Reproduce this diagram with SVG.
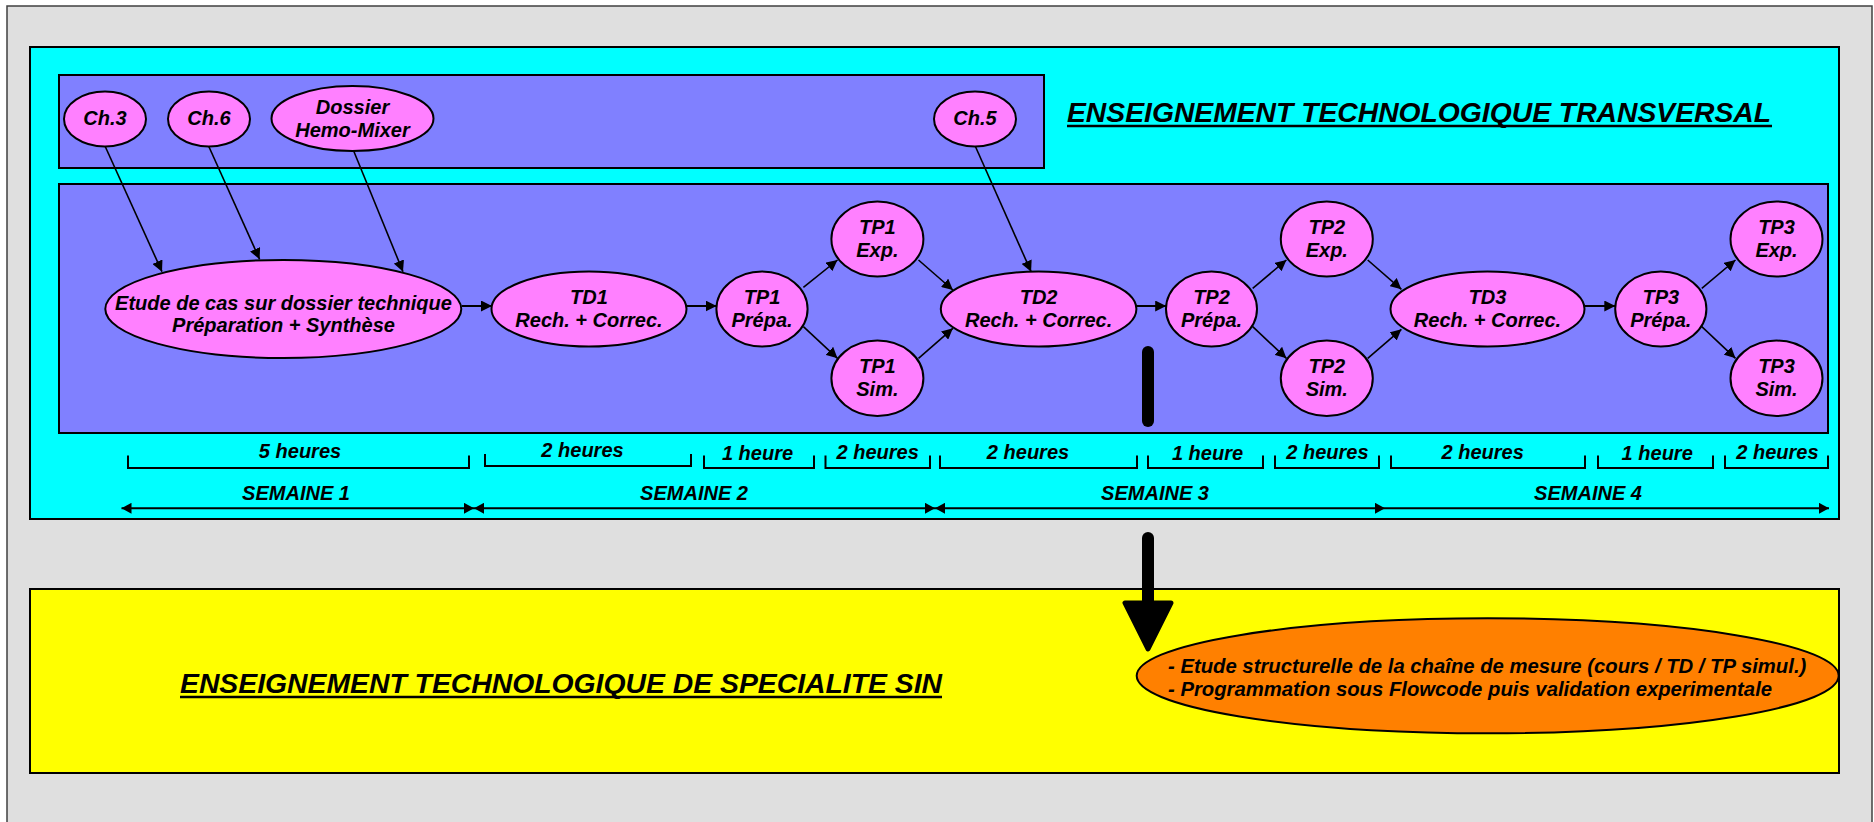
<svg xmlns="http://www.w3.org/2000/svg" width="1874" height="822" viewBox="0 0 1874 822">
<defs>
<style>
.t{font-family:"Liberation Sans",Arial,sans-serif;font-weight:bold;font-style:italic;fill:#000}
.n{font-size:20px;text-anchor:middle}
.h{font-size:20px;text-anchor:middle}
.big{font-size:28px}
.node{fill:#FF80FF;stroke:#000;stroke-width:2}
.c{stroke:#000;stroke-width:1.6;fill:none;marker-end:url(#ah)}
.ch{stroke:#000;stroke-width:2;fill:none;marker-end:url(#ah)}
.br{stroke:#000;stroke-width:2;fill:none}
.wk{stroke:#000;stroke-width:2;fill:none;marker-end:url(#wa)}
.wk2{stroke:#000;stroke-width:2;fill:none;marker-end:url(#wa);marker-start:url(#wa)}
</style>
<marker id="ah" markerUnits="userSpaceOnUse" markerWidth="12" markerHeight="11" refX="11" refY="5.5" orient="auto"><path d="M0,0 L11,5.5 L0,11 z" fill="#000"/></marker>
<marker id="wa" markerUnits="userSpaceOnUse" markerWidth="11" markerHeight="11" refX="10" refY="5.5" orient="auto-start-reverse"><path d="M0,0 L10,5.5 L0,11 z" fill="#000"/></marker>
</defs>
<rect x="0" y="0" width="1874" height="822" fill="#FFFFFF"/>
<rect id="background" x="7" y="6" width="1865" height="830" fill="#DFDFDF" stroke="#404040" stroke-width="1.5"/>
<g id="transversal">
<rect x="30" y="47" width="1809" height="472" fill="#00FFFF" stroke="#000" stroke-width="2"/>
<rect x="59" y="75" width="985" height="93" fill="#8080FF" stroke="#000" stroke-width="2"/>
<rect x="59" y="184" width="1769" height="249" fill="#8080FF" stroke="#000" stroke-width="2"/>
<text class="t big" x="1067" y="122" textLength="704" lengthAdjust="spacingAndGlyphs">ENSEIGNEMENT TECHNOLOGIQUE TRANSVERSAL</text>
<line x1="1067" y1="126" x2="1772" y2="126" stroke="#000" stroke-width="2.5"/>
</g>
<g id="specialite">
<rect x="30" y="589" width="1809" height="184" fill="#FFFF00" stroke="#000" stroke-width="2"/>
<text class="t big" x="180" y="693" textLength="762" lengthAdjust="spacingAndGlyphs">ENSEIGNEMENT TECHNOLOGIQUE DE SPECIALITE SIN</text>
<line x1="180" y1="697" x2="942" y2="697" stroke="#000" stroke-width="2.5"/>
</g>
<g id="connectors">
<line class="c" x1="105" y1="146" x2="162" y2="271.7"/>
<line class="c" x1="208.6" y1="146" x2="259.6" y2="259.3"/>
<line class="c" x1="353.7" y1="151" x2="403" y2="271.7"/>
<line class="c" x1="975.2" y1="146" x2="1031.1" y2="271.7"/>
<line class="ch" x1="461.6" y1="306" x2="492" y2="306"/>
<line class="ch" x1="686.5" y1="306" x2="716.6" y2="306"/>
<line class="c" x1="803.4" y1="287.3" x2="837.5" y2="260"/>
<line class="c" x1="803.4" y1="326.7" x2="837.5" y2="358.3"/>
<line class="c" x1="918.5" y1="260" x2="952.9" y2="290"/>
<line class="c" x1="918.5" y1="358.3" x2="952.9" y2="328.3"/>
<line class="ch" x1="1136.5" y1="306" x2="1166.2" y2="306"/>
<line class="c" x1="1252.7" y1="288.3" x2="1286.4" y2="260"/>
<line class="c" x1="1252.7" y1="326.7" x2="1286.4" y2="358.3"/>
<line class="c" x1="1367.7" y1="260" x2="1401.4" y2="289.3"/>
<line class="c" x1="1367.7" y1="358.3" x2="1401.4" y2="329.3"/>
<line class="ch" x1="1585" y1="306" x2="1615.3" y2="306"/>
<line class="c" x1="1701.8" y1="288.3" x2="1735.5" y2="260"/>
<line class="c" x1="1701.8" y1="326.7" x2="1735.5" y2="358.3"/>
<line x1="1148" y1="352" x2="1148" y2="421" stroke="#000" stroke-width="12" stroke-linecap="round"/>
<line x1="1148" y1="538" x2="1148" y2="606" stroke="#000" stroke-width="12" stroke-linecap="round"/>
<polygon points="1125,603 1171,603 1148,649" fill="#000" stroke="#000" stroke-width="5" stroke-linejoin="round"/>
</g>
<g id="durations">
<path class="br" d="M128,455.5 V468 H469 V455.5"/>
<path class="br" d="M485,454 V466 H691 V454"/>
<path class="br" d="M704,455.5 V468 H814 V455.5"/>
<path class="br" d="M825.5,455.5 V468 H930 V455.5"/>
<path class="br" d="M940,455.5 V468 H1137 V455.5"/>
<path class="br" d="M1148,455.5 V468 H1263 V455.5"/>
<path class="br" d="M1275,455.5 V468 H1379 V455.5"/>
<path class="br" d="M1391,455.5 V468 H1585 V455.5"/>
<path class="br" d="M1598,455.5 V468 H1713 V455.5"/>
<path class="br" d="M1725,455.5 V468 H1828 V455.5"/>
<text class="t h" x="300" y="458">5 heures</text>
<text class="t h" x="582.5" y="457">2 heures</text>
<text class="t h" x="757.5" y="460">1 heure</text>
<text class="t h" x="877.7" y="459">2 heures</text>
<text class="t h" x="1028" y="459">2 heures</text>
<text class="t h" x="1207.5" y="460">1 heure</text>
<text class="t h" x="1327.4" y="459">2 heures</text>
<text class="t h" x="1482.7" y="459">2 heures</text>
<text class="t h" x="1657.2" y="460">1 heure</text>
<text class="t h" x="1777.4" y="459">2 heures</text>
</g>
<g id="weeks">
<line class="wk2" x1="121.5" y1="508.3" x2="474" y2="508.3"/>
<line class="wk2" x1="474" y1="508.3" x2="935" y2="508.3"/>
<line class="wk2" x1="935" y1="508.3" x2="1385" y2="508.3"/>
<line class="wk" x1="1385" y1="508.3" x2="1829" y2="508.3"/>
<text class="t h" x="296" y="500">SEMAINE 1</text>
<text class="t h" x="694" y="500">SEMAINE 2</text>
<text class="t h" x="1155" y="500">SEMAINE 3</text>
<text class="t h" x="1588" y="500">SEMAINE 4</text>
</g>
<g id="n_ch3"><ellipse class="node" cx="105" cy="119" rx="41" ry="27.5"/><text class="t n" x="105" y="125">Ch.3</text></g>
<g id="n_ch6"><ellipse class="node" cx="209" cy="119" rx="41" ry="27.5"/><text class="t n" x="209" y="125">Ch.6</text></g>
<g id="n_dossier"><ellipse class="node" cx="352.5" cy="118.5" rx="81" ry="32.5"/><text class="t n" x="352.5" y="113.5">Dossier</text><text class="t n" x="352.5" y="136.7">Hemo-Mixer</text></g>
<g id="n_ch5"><ellipse class="node" cx="975" cy="119" rx="41" ry="27.5"/><text class="t n" x="975" y="125">Ch.5</text></g>
<g id="n_etude"><ellipse class="node" cx="283.3" cy="309" rx="178" ry="49"/><text class="t n" x="283.5" y="310" font-size="20.5">Etude de cas sur dossier technique</text><text class="t n" x="283.5" y="332" font-size="20.5">Préparation + Synthèse</text></g>
<g id="n_td1"><ellipse class="node" cx="589" cy="309" rx="97.5" ry="37.5"/><text class="t n" x="589" y="303.5">TD1</text><text class="t n" x="589" y="326.5">Rech. + Correc.</text></g>
<g id="n_tp1p"><ellipse class="node" cx="762" cy="309" rx="45.6" ry="37.5"/><text class="t n" x="762" y="303.5">TP1</text><text class="t n" x="762" y="326.5">Prépa.</text></g>
<g id="n_tp1e"><ellipse class="node" cx="877.4" cy="239" rx="46" ry="37.5"/><text class="t n" x="877.4" y="234.3">TP1</text><text class="t n" x="877.4" y="256.7">Exp.</text></g>
<g id="n_tp1s"><ellipse class="node" cx="877.4" cy="378.3" rx="46" ry="37.7"/><text class="t n" x="877.4" y="372.7">TP1</text><text class="t n" x="877.4" y="396.3">Sim.</text></g>
<g id="n_td2"><ellipse class="node" cx="1038.6" cy="309" rx="97.8" ry="37.5"/><text class="t n" x="1038.6" y="303.5">TD2</text><text class="t n" x="1038.6" y="326.5">Rech. + Correc.</text></g>
<g id="n_tp2p"><ellipse class="node" cx="1211.5" cy="309" rx="45.5" ry="37.5"/><text class="t n" x="1211.5" y="303.5">TP2</text><text class="t n" x="1211.5" y="326.5">Prépa.</text></g>
<g id="n_tp2e"><ellipse class="node" cx="1326.8" cy="239" rx="46" ry="37.5"/><text class="t n" x="1326.8" y="234.3">TP2</text><text class="t n" x="1326.8" y="256.7">Exp.</text></g>
<g id="n_tp2s"><ellipse class="node" cx="1326.8" cy="378.3" rx="46" ry="37.7"/><text class="t n" x="1326.8" y="372.7">TP2</text><text class="t n" x="1326.8" y="396.3">Sim.</text></g>
<g id="n_td3"><ellipse class="node" cx="1487.5" cy="309" rx="97" ry="37.5"/><text class="t n" x="1487.5" y="303.5">TD3</text><text class="t n" x="1487.5" y="326.5">Rech. + Correc.</text></g>
<g id="n_tp3p"><ellipse class="node" cx="1660.8" cy="309" rx="45.6" ry="37.5"/><text class="t n" x="1660.8" y="303.5">TP3</text><text class="t n" x="1660.8" y="326.5">Prépa.</text></g>
<g id="n_tp3e"><ellipse class="node" cx="1776.5" cy="239" rx="46" ry="37.5"/><text class="t n" x="1776.5" y="234.3">TP3</text><text class="t n" x="1776.5" y="256.7">Exp.</text></g>
<g id="n_tp3s"><ellipse class="node" cx="1776.5" cy="378.3" rx="46" ry="37.7"/><text class="t n" x="1776.5" y="372.7">TP3</text><text class="t n" x="1776.5" y="396.3">Sim.</text></g>
<g id="n_sin"><ellipse cx="1487.7" cy="675.8" rx="351" ry="57.5" fill="#FF8000" stroke="#000" stroke-width="2"/><text class="t" font-size="20.3" x="1168" y="672.5">- Etude structurelle de la chaîne de mesure (cours / TD / TP simul.)</text><text class="t" font-size="20.3" x="1168" y="696">- Programmation sous Flowcode puis validation experimentale</text></g>
</svg>
